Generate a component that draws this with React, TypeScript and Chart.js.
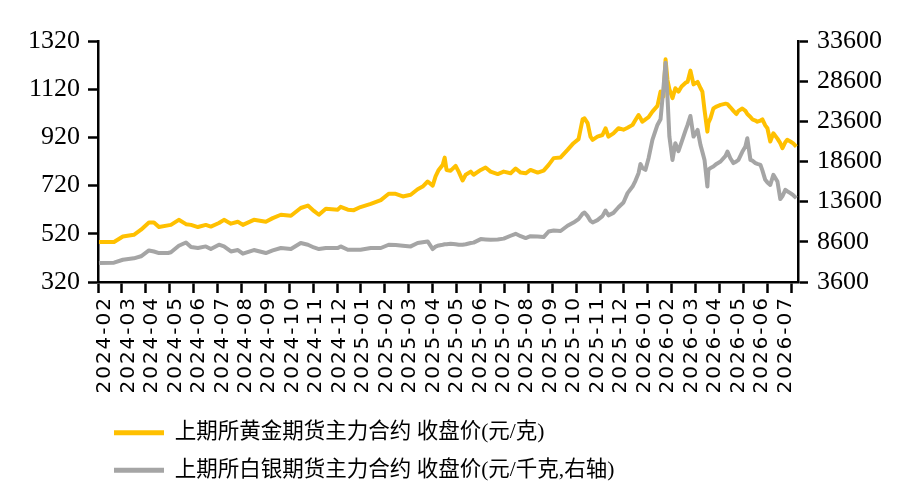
import { useEffect, useRef } from 'react'
import { Chart, ChartConfiguration, registerables } from 'chart.js'

Chart.register(...registerables)

// month ticks on the category axis
const monthLabels = [
  '2024-02', '2024-03', '2024-04', '2024-05', '2024-06', '2024-07', '2024-08', '2024-09', '2024-10', '2024-11',
  '2024-12', '2025-01', '2025-02', '2025-03', '2025-04', '2025-05', '2025-06', '2025-07', '2025-08', '2025-09',
  '2025-10', '2025-11', '2025-12', '2026-01', '2026-02', '2026-03', '2026-04', '2026-05', '2026-06', '2026-07',
]

// sample time, in months since 2024-02-01
const monthPos = [
  0.04, 0.67, 1.04, 1.5, 1.8, 2.13, 2.34, 2.55, 2.93, 3.05,
  3.38, 3.68, 3.89, 4.18, 4.51, 4.72, 5.06, 5.27, 5.56, 5.85,
  6.06, 6.52, 7.02, 7.31, 7.65, 8.07, 8.48, 8.78, 9.03, 9.24,
  9.53, 10.03, 10.15, 10.45, 10.7, 10.98, 11.41, 11.83, 12.16, 12.45,
  12.75, 13.08, 13.37, 13.58, 13.79, 14.0, 14.12, 14.25, 14.42, 14.5,
  14.58, 14.75, 14.96, 15.09, 15.25, 15.38, 15.59, 15.71, 16.01, 16.21,
  16.42, 16.72, 16.97, 17.26, 17.47, 17.68, 17.89, 18.09, 18.39, 18.64,
  18.85, 19.06, 19.35, 19.64, 19.89, 20.1, 20.27, 20.35, 20.48, 20.6,
  20.69, 20.89, 21.1, 21.23, 21.35, 21.56, 21.77, 21.98, 22.15, 22.36,
  22.48, 22.61, 22.69, 22.77, 22.9, 23.03, 23.19, 23.4, 23.53, 23.65,
  23.74, 23.82, 23.9, 24.03, 24.15, 24.28, 24.41, 24.58, 24.66, 24.78,
  24.91, 25.08, 25.2, 25.28, 25.37, 25.49, 25.53, 25.62, 25.74, 25.87,
  26.04, 26.25, 26.33, 26.45, 26.58, 26.7, 26.79, 26.95, 27.08, 27.16,
  27.29, 27.37, 27.5, 27.58, 27.71, 27.79, 27.91, 28.0, 28.12, 28.25,
  28.42, 28.54, 28.63, 28.75, 28.83, 28.96, 29.08, 29.21,
]

// 元/克
const goldClose = [
  486, 486, 509, 516, 537, 567, 567, 548, 555, 557,
  578, 560, 557, 548, 557, 550, 565, 578, 562, 570,
  557, 578, 570, 585, 599, 595, 627, 637, 615, 599,
  624, 620, 632, 620, 618, 631, 644, 660, 686, 686,
  675, 682, 705, 716, 737, 720, 758, 785, 806, 836,
  785, 782, 802, 777, 741, 765, 778, 765, 785, 795,
  778, 768, 778, 771, 791, 774, 771, 785, 774, 782,
  806, 834, 837, 868, 896, 913, 995, 999, 979, 923,
  910, 923, 930, 958, 923, 937, 958, 952, 960, 972,
  992, 1013, 1000, 985, 995, 1004, 1027, 1051, 1110, 1090,
  1244, 1158, 1120, 1083, 1124, 1110, 1131, 1147, 1150, 1197,
  1140, 1150, 1125, 1110, 1034, 944, 980, 1000, 1040, 1048,
  1055, 1060, 1058, 1045, 1030, 1017, 1030, 1040, 1030, 1017,
  1005, 995, 990, 985, 990, 995, 970, 958, 903, 937,
  915, 896, 875, 900, 910, 903, 895, 882,
]

// 元/千克
const silverClose = [
  5960, 6010, 6370, 6550, 6800, 7530, 7400, 7205, 7205, 7300,
  8110, 8520, 7950, 7830, 8030, 7700, 8240, 8030, 7400, 7580,
  7120, 7580, 7205, 7530, 7830, 7700, 8450, 8240, 7900, 7700,
  7830, 7830, 8030, 7615, 7615, 7615, 7830, 7830, 8240, 8200,
  8110, 8030, 8450, 8550, 8650, 7700, 8000, 8150, 8240, 8300,
  8300, 8370, 8300, 8240, 8240, 8300, 8450, 8500, 8940, 8900,
  8860, 8900, 9000, 9355, 9600, 9300, 9070, 9300, 9250, 9190,
  9890, 10000, 9950, 10600, 11000, 11430, 12100, 12250, 11800, 11200,
  11010, 11300, 11800, 12500, 11900, 12200, 12900, 13500, 14660, 15480,
  16200, 17150, 18300, 17800, 17560, 19010, 21290, 23150, 23850, 27710,
  30900, 26680, 21700, 18800, 20880, 19880, 21000, 22500, 23150, 24270,
  21700, 22530, 20670, 19800, 18800, 15480, 17560, 17800, 17980, 18300,
  18600, 19300, 19840, 19000, 18400, 18600, 18800, 19800, 20460, 21500,
  18800, 18700, 18400, 18300, 18180, 17500, 16320, 16000, 15690, 16940,
  16110, 13920, 14300, 15070, 14900, 14660, 14400, 14040,
]

const seriesNames = ['上期所黄金期货主力合约 收盘价(元/克)', '上期所白银期货主力合约 收盘价(元/千克,右轴)']

const monthTicks = (scale: any) => {
  scale.ticks = monthLabels.map((_, i) => ({ value: i }))
}

// the month labels (ticks.z: 1) are drawn after the datasets, with wider letter spacing
const spacedLabels = {
  id: 'spacedLabels',
  afterDatasetsDraw(chart: Chart) {
    ;(chart.ctx as any).letterSpacing = '2px'
  },
  afterDraw(chart: Chart) {
    ;(chart.ctx as any).letterSpacing = '0px'
  },
}

export default function App() {
  const canvasRef = useRef<HTMLCanvasElement>(null)

  useEffect(() => {
    const ctx = canvasRef.current?.getContext('2d')
    if (!ctx) return

    const axisLine = { color: '#000', width: 2.5 }
    const tickMarks = { drawOnChartArea: false, tickLength: 10, tickColor: '#000', tickWidth: 2.5 }
    const serif = { family: "'Liberation Serif', 'Times New Roman', serif", size: 26 }

    const config: ChartConfiguration = {
      type: 'line',
      data: {
        datasets: [
          {
            label: seriesNames[0],
            data: monthPos.map((x, i) => ({ x, y: goldClose[i] })),
            borderColor: '#FFC000',
            backgroundColor: '#FFC000',
            borderWidth: 4,
            pointRadius: 0,
            borderJoinStyle: 'round',
            xAxisID: 'x',
            yAxisID: 'y',
            order: 2,
          },
          {
            label: seriesNames[1],
            data: monthPos.map((x, i) => ({ x, y: silverClose[i] })),
            borderColor: '#A5A5A5',
            backgroundColor: '#A5A5A5',
            borderWidth: 4,
            pointRadius: 0,
            borderJoinStyle: 'round',
            xAxisID: 'x',
            yAxisID: 'y1',
            order: 1,
          },
        ],
      },
      options: {
        responsive: true,
        maintainAspectRatio: false,
        animation: false,
        layout: { padding: { top: 41, bottom: 8, left: 0, right: 0 } },
        plugins: {
          tooltip: { enabled: false },
          legend: {
            position: 'bottom',
            align: 'start',
            fullSize: false,
            labels: {
              boxWidth: 50,
              boxHeight: 5,
              padding: 16,
              color: '#000',
              font: { family: "'Liberation Serif', 'Noto Sans CJK SC', serif", size: 21.5 },
              generateLabels: (chart) =>
                chart.data.datasets.map((ds: any, i) => ({
                  text: ds.label,
                  fillStyle: ds.borderColor,
                  strokeStyle: ds.borderColor,
                  lineWidth: 0,
                  hidden: false,
                  datasetIndex: i,
                  fontColor: '#000',
                })),
            },
          },
        },
        scales: {
          x: {
            type: 'linear',
            position: 'bottom',
            min: 0,
            max: 29.28,
            afterBuildTicks: monthTicks,
            afterFit: (s) => {
              s.height = 11
            },
            ticks: { display: false },
            grid: { ...tickMarks, tickLength: 11 },
            border: axisLine,
          },
          xl: {
            type: 'linear',
            position: 'bottom',
            weight: 1,
            min: -0.3,
            max: 29.54,
            afterBuildTicks: monthTicks,
            afterFit: (s) => {
              s.height = 113
            },
            grid: { display: false, drawTicks: false },
            border: { display: false },
            ticks: {
              z: 1,
              minRotation: 90,
              maxRotation: 90,
              autoSkip: false,
              padding: 3,
              color: '#000',
              font: { family: "'DejaVu Sans', sans-serif", size: 20 },
              callback: (v) => monthLabels[Math.round(Number(v))],
            },
          },
          y: {
            type: 'linear',
            position: 'left',
            min: 320,
            max: 1320,
            afterFit: (s) => {
              s.width = 98
            },
            ticks: { stepSize: 200, color: '#000', font: serif, padding: 8, callback: (v) => String(v) },
            grid: tickMarks,
            border: axisLine,
          },
          y1: {
            type: 'linear',
            position: 'right',
            min: 3600,
            max: 33600,
            afterFit: (s) => {
              s.width = 109
            },
            ticks: { stepSize: 5000, color: '#000', font: serif, padding: 9, callback: (v) => String(v) },
            grid: tickMarks,
            border: axisLine,
          },
        },
      },
      plugins: [spacedLabels],
    }

    const chart = new Chart(ctx, config)
    return () => {
      chart.destroy()
    }
  }, [])

  return (
    <div style={{ position: 'absolute', left: 0, top: 0, width: 907, height: 499, background: '#fff' }}>
      <canvas ref={canvasRef} />
    </div>
  )
}
